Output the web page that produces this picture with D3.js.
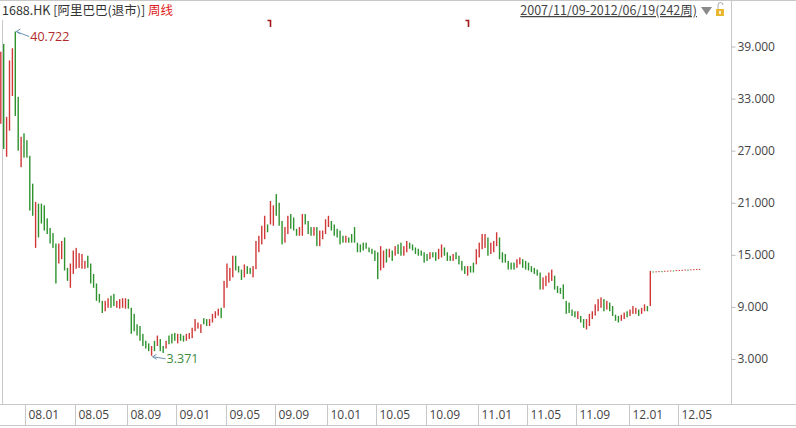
<!DOCTYPE html>
<html><head><meta charset="utf-8">
<script src="https://cdn.jsdelivr.net/npm/d3@7/dist/d3.min.js"></script>
<style>body{margin:0;background:#fff;overflow:hidden}</style>
</head><body>
<svg id="chart" width="796" height="428"></svg>
<script>
// ---- data (weekly bars, 2007/11/09 - 2012/06/19) ----
const highs = [
38.4,39.3,30.9,37.4,38.8,40.722,33.2,28.6,29.0,28.2,26.4,23.2,21.1,20.9,20.9,20.7,19.2,18.1,17.5,16.3,
16.3,16.6,17.0,13.5,14.0,15.5,15.8,15.2,15.1,14.3,14.9,14.0,12.8,11.7,10.5,9.7,9.7,10.0,10.3,10.5,
9.7,9.9,10.0,10.0,9.9,8.9,8.2,7.0,6.8,5.9,5.1,4.8,4.5,5.1,5.7,5.3,4.5,5.1,5.7,5.9,
6.0,5.9,5.9,5.7,5.9,6.0,6.6,7.6,7.2,7.0,7.7,7.6,7.6,8.2,8.5,8.8,8.9,12.0,14.0,13.5,
14.9,14.9,13.7,13.3,13.9,13.7,13.5,13.7,16.6,17.2,18.35,19.5,18.5,21.2,20.7,22.0,21.0,18.9,18.2,19.5,
19.7,19.3,18.0,18.2,19.7,19.7,18.9,18.2,18.2,18.2,17.8,17.8,19.1,19.5,18.9,18.5,18.0,17.8,17.2,17.2,
17.0,17.4,18.2,16.4,16.2,16.4,16.4,15.85,15.7,15.5,15.3,16.0,15.5,15.7,15.7,15.5,16.0,16.2,16.4,16.0,
16.6,16.4,16.2,15.85,15.7,15.5,15.3,15.1,15.3,15.3,15.3,15.7,16.2,15.85,15.3,14.9,15.1,15.3,14.9,14.3,
13.7,13.7,13.7,14.1,15.65,16.4,17.4,17.4,17.0,16.4,16.6,17.6,17.0,15.3,15.1,14.3,14.1,14.1,14.5,14.7,
14.5,14.3,14.1,13.7,13.5,13.3,12.96,12.4,12.6,12.96,13.3,12.6,11.4,11.2,11.6,9.7,9.5,8.7,8.5,8.5,
7.96,7.6,7.6,8.2,8.5,9.3,9.9,10.1,9.9,9.7,9.5,9.1,8.1,7.96,8.1,8.35,8.5,8.7,9.1,8.9,
8.7,8.9,9.3,9.1,13.15,13.08,13.1,13.12,13.12,13.16,13.18,13.2,13.2,13.24,13.26,13.27,13.3,13.3,13.33,13.35,
13.36,13.38];
const lows = [
30.1,27.2,26.3,29.3,33.3,31.0,27.0,25.1,26.2,26.2,20.1,19.5,15.8,17.0,18.6,17.8,17.4,16.3,15.8,11.7,
14.0,14.5,13.2,12.0,11.2,12.8,13.4,13.5,13.4,13.4,13.5,11.7,11.2,9.7,9.5,8.3,8.5,8.9,8.9,9.1,
8.9,8.8,8.9,8.8,8.8,5.9,6.2,5.7,5.1,4.5,4.2,3.9,3.371,3.9,4.5,3.9,3.7,4.2,4.7,4.8,
5.1,4.8,5.1,5.0,5.1,5.3,5.4,6.2,6.5,6.0,7.0,6.8,6.8,7.2,7.7,8.0,7.7,8.9,11.2,12.0,
12.4,13.2,12.96,12.1,12.4,12.8,12.8,12.4,13.35,15.3,16.2,16.8,17.6,18.5,18.35,19.5,18.35,16.2,16.4,17.4,
18.0,17.8,17.2,17.2,17.2,18.5,17.4,17.2,17.2,16.0,16.0,16.8,17.4,18.2,17.8,17.2,17.0,16.2,16.4,16.4,
16.4,16.4,16.4,15.3,15.3,15.5,15.7,15.3,15.1,14.3,12.2,13.2,13.5,14.1,14.7,14.3,14.9,15.1,14.9,14.9,
15.3,15.7,15.5,15.1,14.9,14.9,14.1,14.3,14.5,14.7,14.3,14.5,14.7,14.9,14.3,14.3,14.3,14.5,13.9,13.2,
12.8,12.6,12.96,12.96,13.9,14.7,15.65,15.8,14.9,15.1,15.3,16.0,14.5,14.1,14.1,13.3,13.3,13.3,13.5,13.9,
13.5,13.3,13.2,13.0,12.8,12.6,11.0,11.0,11.4,11.8,12.0,11.0,10.6,10.5,9.9,8.2,8.3,7.96,7.8,7.6,
7.2,6.6,6.4,6.8,7.6,8.0,8.5,8.9,8.5,8.7,8.5,7.96,7.4,7.2,7.4,7.6,7.8,7.96,8.2,8.2,
7.96,8.2,8.5,8.5,9.1,13.02,13.04,13.06,13.07,13.1,13.12,13.14,13.15,13.18,13.2,13.22,13.24,13.25,13.27,13.3,
13.31,13.33];
// r = rising week (red), g = falling week (green)
const dirs = (
"rgrrrggrggggrggggggg" +
"rrggrrrrrrggggggrrgg" +
"rrrrggggggggrgrggrgg" +
"grggrrrrrrggrrrrgrrr" +
"rgggrggrrrrrgrrgggrr" +
"gggrrgggrgrrrrgggggr" +
"gggggggggggrrgrgrggr" +
"rgggggggrggrrgggrggg" +
"grggrrrrgrrrggggggrr" +
"gggggggrrrrggggggggrg".slice(0,20) +
"ggrrrrrrgrggggrrgrrr" +
"grrgrgrrgrrrgrrrrgrrrr").split("");

const yTicks = [3, 9, 15, 21, 27, 33, 39];
const monthLabels = ["08.01","08.05","08.09","09.01","09.05","09.09","10.01","10.05","10.09","11.01","11.05","11.09","12.01","12.05"];
const monthStartBar = [9, 26, 44, 61, 78, 95, 113, 130, 147, 165, 182, 199, 217, 234];
const eventBars = [93, 161];
const maxMark = {bar: 5, value: 40.722, label: "40.722"};
const minMark = {bar: 52, value: 3.371, label: "3.371"};
const titleCode = "1688.HK";
const titleName = "[阿里巴巴(退市)]";
const titlePeriod = "周线";
const rangeText = "2007/11/09-2012/06/19(242周)";

// ---- drawing ----
const svg = d3.select("#chart");
const W = 796, H = 428;
const plotRight = 731.5, axisY = 404.5, bottomY = 425.5;
const x = d3.scaleLinear().domain([0, highs.length - 1]).range([0.8, 699.6]);
const y = d3.scaleLinear().domain([3, 39]).range([359, 46.5]);
const RED = "#d03838", GREEN = "#2e922e", GRID = "#c8c8c8";
const fontLat = "'Segoe UI','Open Sans','Noto Sans',sans-serif";
const fontCJK = "'Microsoft YaHei','Noto Sans CJK SC','Noto Sans',sans-serif";

// frame
svg.append("line").attr("x1",0).attr("x2",W).attr("y1",0.5).attr("y2",0.5).attr("stroke",GRID);
svg.append("line").attr("x1",2.5).attr("x2",2.5).attr("y1",20).attr("y2",axisY).attr("stroke",GRID);
svg.append("line").attr("x1",plotRight).attr("x2",plotRight).attr("y1",0).attr("y2",axisY).attr("stroke",GRID);
svg.append("line").attr("x1",0).attr("x2",W).attr("y1",axisY).attr("y2",axisY).attr("stroke",GRID);
svg.append("line").attr("x1",0).attr("x2",W).attr("y1",bottomY).attr("y2",bottomY).attr("stroke",GRID);

// y axis on the right
const yAxis = d3.axisRight(y).tickValues(yTicks).tickSize(4).tickFormat(d3.format(".3f"));
const gy = svg.append("g").attr("transform",`translate(${plotRight},0)`).call(yAxis);
gy.select(".domain").remove();
gy.selectAll(".tick line").attr("stroke","#bbb");
gy.selectAll(".tick text").attr("x",6).attr("fill","#444").style("font-family",fontLat).style("font-size","12px");

// x axis month separators + labels
const sepX = d => Math.round(x(d) - 1.45) + 0.5;
const gx = svg.append("g");
gx.selectAll("line").data(monthStartBar).enter().append("line")
  .attr("x1",sepX).attr("x2",sepX).attr("y1",axisY).attr("y2",bottomY).attr("stroke",GRID);
gx.selectAll("text").data(monthStartBar).enter().append("text")
  .attr("x", d => sepX(d) + 3).attr("y", 419)
  .text((d,i) => monthLabels[i])
  .attr("fill","#444").style("font-family",fontLat).style("font-size","12px");

// bars
svg.append("g").selectAll("rect").data(highs).enter().append("rect")
  .attr("x", (d,i) => x(i) - 0.7)
  .attr("width", 1.4)
  .attr("y", (d,i) => y(highs[i]))
  .attr("height", (d,i) => Math.max(1, y(lows[i]) - y(highs[i])))
  .attr("fill", (d,i) => dirs[i] === "r" ? RED : GREEN);

// event markers at top
svg.append("g").selectAll("path").data(eventBars).enter().append("path")
  .attr("d", d => { const cx = Math.round(x(d)) + 0.5; return `M${cx-3},20.5 L${cx},20.5 L${cx},27`; })
  .attr("stroke","#a01818").attr("stroke-width",1.6).attr("fill","none");

// max / min annotations
function mark(m, color, dx, dy) {
  const px = x(m.bar), py = m.bar === maxMark.bar ? y(m.value) : y(m.value) + 1;
  const g = svg.append("g");
  g.append("line").attr("x1",px+1).attr("y1",py).attr("x2",px+dx).attr("y2",py+dy)
    .attr("stroke","#6f93b0").attr("stroke-width",1);
  g.append("path").attr("d",`M${px+5},${py-2.5} L${px+1},${py} L${px+5},${py+2.5}`)
    .attr("stroke","#6f93b0").attr("fill","none").attr("stroke-width",1);
  g.append("text").attr("x",px+dx+1).attr("y",py+dy+4.5).text(m.label)
    .attr("fill",color).style("font-family",fontLat).style("font-size","12.5px");
}
mark(maxMark, "#b22a2a", 14, 5);
mark(minMark, "#3d8a3d", 14, 2);

// header
const ht = svg.append("text").attr("x",2).attr("y",15).style("font-family",fontCJK).style("font-size","12.5px");
ht.append("tspan").text(titleCode + "  ").attr("fill","#333");
ht.append("tspan").text(titleName + " ").attr("fill","#333");
ht.append("tspan").text(titlePeriod).attr("fill","#d22");
svg.append("text").attr("x",697).attr("y",15).attr("text-anchor","end").text(rangeText)
  .attr("fill","#444").attr("text-decoration","underline")
  .style("font-family",fontCJK).style("font-size","12.5px");
svg.append("path").attr("d","M701,7 L712,7 L706.5,15 Z").attr("fill","#8a8a8a");
svg.append("rect").attr("x",716).attr("y",9).attr("width",8).attr("height",7).attr("fill","#e8b830");
svg.append("rect").attr("x",719).attr("y",11).attr("width",2).attr("height",3).attr("fill","#fff6d0");
svg.append("path").attr("d","M718,9 L718,5 A2.5,2.5 0 0 1 723,5").attr("stroke","#aaa").attr("fill","none");
</script>
</body></html>
